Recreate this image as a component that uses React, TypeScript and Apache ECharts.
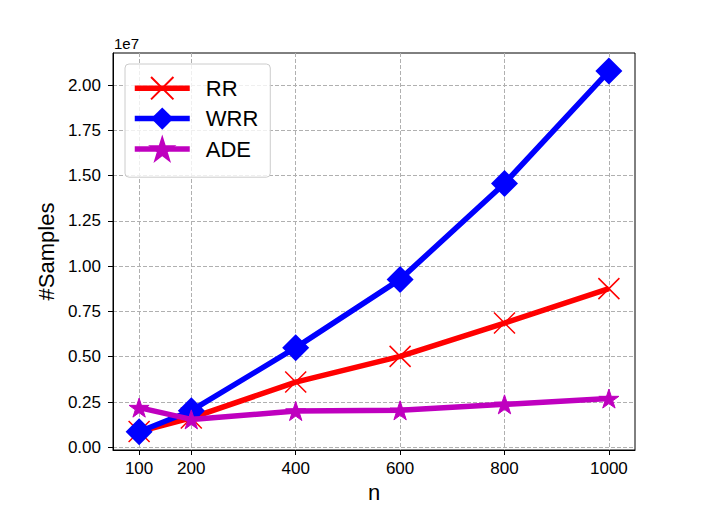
import React, { useEffect, useRef } from "react";
import * as echarts from "echarts";

const nValues = [100, 200, 400, 600, 800, 1000];
const rrValues = [870000, 1620000, 3600000, 5020000, 6860000, 8760000];
const wrrValues = [860000, 2020000, 5500000, 9270000, 14570000, 20770000];
const adeValues = [2190000, 1540000, 2000000, 2040000, 2370000, 2690000];
const xTicks = [100, 200, 400, 600, 800, 1000];
const yTicks = [0, 2500000, 5000000, 7500000, 10000000, 12500000, 15000000, 17500000, 20000000];
const seriesNames = ["RR", "WRR", "ADE"];

const FONT = "Liberation Sans, Arial, Helvetica, sans-serif";

function starPath(): string {
  const pts: string[] = [];
  for (let i = 0; i < 10; i++) {
    const r = i % 2 === 0 ? 1 : 0.382;
    const a = -Math.PI / 2 + (i * Math.PI) / 5;
    pts.push(`${(r * Math.cos(a)).toFixed(4)} ${(r * Math.sin(a)).toFixed(4)}`);
  }
  return "path://M" + pts.join(" L") + " Z";
}

const crossPath = "path://M0 0 L10 10 M10 0 L0 10";

export default function App() {
  const ref = useRef<HTMLDivElement>(null);
  useEffect(() => {
    if (!ref.current) return;
    const chart = echarts.init(ref.current, null, { renderer: "svg" });
    const pair = (vals: number[]) => nValues.map((n, i) => [n, vals[i]]);
    const gridLine = { show: true, lineStyle: { color: "#b0b0b0", width: 1, type: [4, 2] as any } };
    chart.setOption({
      animation: false,
      backgroundColor: "#ffffff",
      grid: {
        left: 113,
        right: 71,
        top: 53,
        bottom: 79,
        show: true,
        borderColor: "#000000",
        borderWidth: 1,
        backgroundColor: "transparent",
      },
      xAxis: {
        type: "value",
        min: 50,
        max: 1050,
        name: "n",
        nameLocation: "middle",
        nameGap: 30,
        nameTextStyle: { fontSize: 22, color: "#000", fontFamily: FONT },
        axisLine: { show: true, onZero: false, lineStyle: { color: "#000", width: 1 } },
        axisTick: { show: true, inside: false, length: 5, customValues: xTicks, lineStyle: { color: "#000" } },
        axisLabel: {
          customValues: xTicks,
          fontSize: 17,
          color: "#000",
          fontFamily: FONT,
          margin: 10,
          formatter: (v: number) => String(v),
        },
        splitLine: gridLine,
      },
      yAxis: {
        type: "value",
        min: -150000,
        max: 21770000,
        name: "#Samples",
        nameLocation: "middle",
        nameGap: 54,
        nameTextStyle: { fontSize: 22, color: "#000", fontFamily: FONT },
        axisLine: { show: true, onZero: false, lineStyle: { color: "#000", width: 1 } },
        axisTick: { show: true, inside: false, length: 5, customValues: yTicks, lineStyle: { color: "#000" } },
        axisLabel: {
          customValues: yTicks,
          fontSize: 17,
          color: "#000",
          fontFamily: FONT,
          margin: 12,
          formatter: (v: number) => (v / 1e7).toFixed(2),
        },
        splitLine: gridLine,
      },
      legend: {
        data: seriesNames,
        orient: "vertical",
        left: 125,
        top: 64,
        itemWidth: 55,
        itemHeight: 28,
        itemGap: 7,
        padding: [12, 12, 16, 7],
        backgroundColor: "rgba(255,255,255,0.8)",
        borderColor: "#cccccc",
        borderWidth: 1,
        borderRadius: 4,
        lineStyle: { width: 5.5 },
        textStyle: { fontSize: 22, color: "#000", fontFamily: FONT, padding: [0, 0, 0, 11] },
      },
      graphic: [
        {
          type: "text",
          left: 114,
          top: 36,
          style: { text: "1e7", fontSize: 15, fill: "#000", fontFamily: FONT },
        },
      ],
      series: [
        {
          name: "RR",
          type: "line",
          data: pair(rrValues),
          symbol: crossPath,
          symbolSize: 21,
          showAllSymbol: true,
          lineStyle: { color: "#ff0000", width: 5.5 },
          itemStyle: { color: "#ff0000", borderColor: "#ff0000", borderWidth: 1.5 },
          z: 2,
        },
        {
          name: "WRR",
          type: "line",
          data: pair(wrrValues),
          symbol: "diamond",
          symbolSize: 27,
          showAllSymbol: true,
          lineStyle: { color: "#0000ff", width: 5.5 },
          itemStyle: { color: "#0000ff", borderColor: "#0000ff", borderWidth: 0 },
          z: 3,
        },
        {
          name: "ADE",
          type: "line",
          data: pair(adeValues),
          symbol: starPath(),
          symbolSize: 20,
          symbolKeepAspect: true,
          showAllSymbol: true,
          lineStyle: { color: "#bf00bf", width: 5.5 },
          itemStyle: { color: "#bf00bf", borderColor: "#bf00bf", borderWidth: 1 },
          z: 4,
        },
      ],
    });
    return () => chart.dispose();
  }, []);
  return (
    <div
      ref={ref}
      style={{ position: "fixed", left: 0, top: 0, width: 706, height: 529, background: "#fff" }}
    />
  );
}
